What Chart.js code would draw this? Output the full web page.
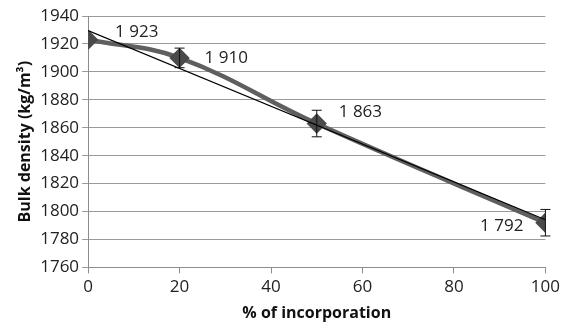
<!DOCTYPE html>
<html>
<head>
<meta charset="utf-8">
<script src="https://cdn.jsdelivr.net/npm/chart.js@4"></script>
<style>
  html, body { margin: 0; padding: 0; background: #fff; }
  #wrap { width: 564px; height: 327px; }
</style>
</head>
<body>
<div id="wrap"><canvas id="chart"></canvas></div>
<script>
const incorporation = [0, 20, 50, 100];
const density       = [1923, 1910, 1863, 1792];
const errors        = [0, 7, 9.5, 9.5];
const pointLabels   = ['1 923', '1 910', '1 863', '1 792'];

// linear trendline from the data (least squares)
const n = incorporation.length;
const mx = incorporation.reduce((a, b) => a + b, 0) / n;
const my = density.reduce((a, b) => a + b, 0) / n;
let sxy = 0, sxx = 0;
for (let i = 0; i < n; i++) {
  sxy += (incorporation[i] - mx) * (density[i] - my);
  sxx += (incorporation[i] - mx) ** 2;
}
const slope = sxy / sxx;
const icpt = my - slope * mx;
const trendX = [0, 100];

// label offsets next to each point (px)
const labelOffsets = [[27, -8, 'left'], [25, 0, 'left'], [22, -11, 'left'], [-22, 3, 'right']];

const errorBars = {
  id: 'errorBars',
  afterDatasetsDraw(chart) {
    const { ctx, scales: { x, y } } = chart;
    ctx.save();
    ctx.strokeStyle = '#111';
    ctx.lineWidth = 1;
    incorporation.forEach((v, i) => {
      if (!errors[i]) return;
      const px = x.getPixelForValue(v);
      const top = y.getPixelForValue(density[i] + errors[i]);
      const bot = y.getPixelForValue(density[i] - errors[i]);
      ctx.beginPath();
      ctx.moveTo(px, top); ctx.lineTo(px, bot);
      ctx.moveTo(px - 5, top); ctx.lineTo(px + 5, top);
      ctx.moveTo(px - 5, bot); ctx.lineTo(px + 5, bot);
      ctx.stroke();
    });
    ctx.font = '17px "Open Sans", sans-serif';
    ctx.fillStyle = '#222';
    ctx.textBaseline = 'middle';
    incorporation.forEach((v, i) => {
      const px = x.getPixelForValue(v);
      const py = y.getPixelForValue(density[i]);
      const [dx, dy, align] = labelOffsets[i];
      ctx.textAlign = align;
      ctx.fillText(pointLabels[i], px + dx, py + dy);
    });
    ctx.restore();
  }
};

new Chart(document.getElementById('chart'), {
  type: 'scatter',
  data: {
    datasets: [{
      label: 'Bulk density',
      data: incorporation.map((v, i) => ({ x: v, y: density[i] })),
      showLine: true,
      tension: 0.4,
      borderColor: '#5f5f5f',
      borderWidth: 4.5,
      pointStyle: 'rectRot',
      pointRadius: 7,
      pointBackgroundColor: '#4a4a4a',
      pointBorderColor: '#4a4a4a',
      order: 1
    }, {
      label: 'Trend',
      data: trendX.map(v => ({ x: v, y: icpt + slope * v })),
      showLine: true,
      borderColor: '#000',
      borderWidth: 1.2,
      pointRadius: 0,
      order: 0
    }]
  },
  plugins: [errorBars],
  options: {
    responsive: true,
    maintainAspectRatio: false,
    animation: false,
    layout: { padding: { left: 12, right: 0, top: 16, bottom: 4 } },
    plugins: { legend: { display: false }, tooltip: { enabled: false } },
    scales: {
      x: {
        type: 'linear', min: 0, max: 100,
        ticks: { stepSize: 20, color: '#222', font: { family: 'Open Sans', size: 17 }, padding: 4 },
        grid: { drawOnChartArea: false, drawTicks: true, tickLength: 6, color: '#8c8c8c' },
        border: { color: '#8c8c8c' },
        title: { display: true, text: '% of incorporation', color: '#111', font: { family: 'Open Sans', size: 16, weight: 'bold' }, padding: { top: 2, bottom: 0 } }
      },
      y: {
        min: 1760, max: 1940,
        ticks: { stepSize: 20, color: '#222', font: { family: 'Open Sans', size: 17 }, padding: 3,
                 callback: v => String(v) },
        grid: { color: '#9a9a9a', tickLength: 6 },
        border: { color: '#8c8c8c' },
        title: { display: true, text: 'Bulk density (kg/m³)', color: '#111', font: { family: 'Open Sans', size: 16, weight: 'bold' }, padding: { bottom: 2 } }
      }
    }
  }
});
</script>
</body>
</html>
